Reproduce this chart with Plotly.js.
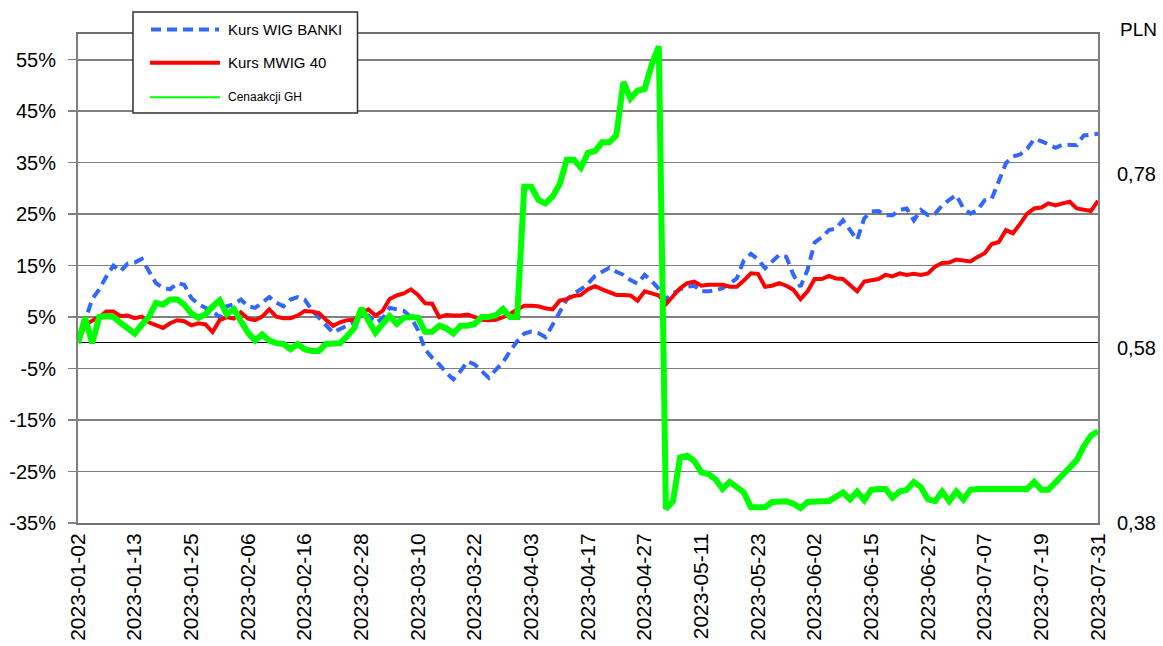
<!DOCTYPE html>
<html>
<head>
<meta charset="utf-8">
<script src="https://cdn.plot.ly/plotly-3.0.1.min.js"></script>
<style>html,body{margin:0;padding:0;background:#fff;}#chart{width:1163px;height:646px;}</style>
</head>
<body>
<div id="chart"></div>
<script>
// Trading days (GPW) 2023-01-02 .. 2023-07-31
const dates = [
'2023-01-02','2023-01-03','2023-01-04','2023-01-05','2023-01-09','2023-01-10','2023-01-11','2023-01-12','2023-01-13','2023-01-16',
'2023-01-17','2023-01-18','2023-01-19','2023-01-20','2023-01-23','2023-01-24','2023-01-25','2023-01-26','2023-01-27','2023-01-30',
'2023-01-31','2023-02-01','2023-02-02','2023-02-03','2023-02-06','2023-02-07','2023-02-08','2023-02-09','2023-02-10','2023-02-13',
'2023-02-14','2023-02-15','2023-02-16','2023-02-17','2023-02-20','2023-02-21','2023-02-22','2023-02-23','2023-02-24','2023-02-27',
'2023-02-28','2023-03-01','2023-03-02','2023-03-03','2023-03-06','2023-03-07','2023-03-08','2023-03-09','2023-03-10','2023-03-13',
'2023-03-14','2023-03-15','2023-03-16','2023-03-17','2023-03-20','2023-03-21','2023-03-22','2023-03-23','2023-03-24','2023-03-27',
'2023-03-28','2023-03-29','2023-03-30','2023-03-31','2023-04-03','2023-04-04','2023-04-05','2023-04-06','2023-04-11','2023-04-12',
'2023-04-13','2023-04-14','2023-04-17','2023-04-18','2023-04-19','2023-04-20','2023-04-21','2023-04-24','2023-04-25','2023-04-26',
'2023-04-27','2023-04-28','2023-05-02','2023-05-04','2023-05-05','2023-05-08','2023-05-09','2023-05-10','2023-05-11','2023-05-12',
'2023-05-15','2023-05-16','2023-05-17','2023-05-18','2023-05-19','2023-05-22','2023-05-23','2023-05-24','2023-05-25','2023-05-26',
'2023-05-29','2023-05-30','2023-05-31','2023-06-01','2023-06-02','2023-06-05','2023-06-06','2023-06-07','2023-06-09','2023-06-12',
'2023-06-13','2023-06-14','2023-06-15','2023-06-16','2023-06-19','2023-06-20','2023-06-21','2023-06-22','2023-06-23','2023-06-26',
'2023-06-27','2023-06-28','2023-06-29','2023-06-30','2023-07-03','2023-07-04','2023-07-05','2023-07-06','2023-07-07','2023-07-10',
'2023-07-11','2023-07-12','2023-07-13','2023-07-14','2023-07-17','2023-07-18','2023-07-19','2023-07-20','2023-07-21','2023-07-24',
'2023-07-25','2023-07-26','2023-07-27','2023-07-28','2023-07-31'
];

// Kurs WIG BANKI, change since 2023-01-02 (%)
const wigBanki = [
0, 4, 8.5, 10.4, 12.9, 15, 13.9, 15.4, 15.6, 16.3,
13.9, 11.6, 10.7, 10.4, 11.6, 11.3, 8.7, 7.5, 6.8, 6.2,
4.9, 7.1, 7.5, 8.4, 7.1, 6.8, 7.8, 8.9, 7.8, 7.1,
8.4, 8.9, 8.4, 6.4, 4.9, 3.4, 2, 2.7, 3.4, 4.2,
4.7, 5.3, 3.9, 4.7, 6.8, 6.5, 6.2, 5, 2.5, -1.3,
-2.9, -4.2, -5.8, -7.1, -5.5, -3.6, -4.2, -5.5, -6.8, -5.2,
-3.8, -1.6, 0.3, 1.8, 2.2, 1.9, 1.1, 3.5, 6.1, 8.4,
9.6, 10.4, 11.5, 13, 13.8, 14.6, 13.8, 13.2, 12.2, 11.5,
13.2, 12, 10.5, 8.5, 9.6, 10.4, 10.9, 11.1, 10, 10,
10.2, 10.6, 11.5, 12.5, 16, 17.3, 16.2, 14.5, 15.8, 17.1,
16.7, 13.2, 10.9, 14.2, 19.5, 20.5, 21.9, 22.2, 23.8, 21.9,
20, 24.2, 25.5, 25.6, 24.8, 24.8, 25.8, 26.1, 23.8, 25.8,
24.8, 25.1, 26.7, 27.8, 28.7, 26.1, 25.1, 25.8, 27.7, 28,
31.6, 34.9, 36.2, 36.6, 37.7, 39.6, 39.2, 38.5, 37.9, 38.5,
38.5, 38.4, 40.3, 40.5, 40.6
];

// Kurs MWIG 40, change since 2023-01-02 (%)
const mwig40 = [
0, 3.5, 4.3, 5, 6.1, 6.1, 5.2, 5.3, 4.8, 5.1,
4, 3.4, 2.9, 3.8, 4.4, 4.2, 3.4, 3.8, 3.6, 2.1,
4.4, 5, 4.7, 5.9, 4.7, 4.4, 5.1, 6.5, 5.1, 4.8,
4.8, 5.3, 6.2, 6.1, 5.8, 4.5, 3.3, 4, 4.4, 4.5,
5.8, 6.5, 5.3, 6.2, 8.5, 9.2, 9.6, 10.4, 9.3, 7.7,
7.6, 5, 5.4, 5.3, 5.3, 5.5, 5.1, 4.5, 4.4, 4.5,
5, 5.6, 6.5, 7.2, 7.2, 7.1, 6.7, 6.5, 8.2, 8.5,
9.1, 9.3, 10.4, 11, 10.4, 9.8, 9.3, 9.3, 9.2, 8.2,
10, 9.6, 9.2, 7.5, 9, 10.6, 11.6, 11.9, 11.1, 11.3,
11.3, 11.3, 10.9, 10.9, 12.1, 13.5, 13.4, 10.9, 11.1, 11.6,
11.1, 10.3, 8.5, 10, 12.4, 12.4, 13, 12.5, 12.4, 11.3,
10, 11.9, 12.2, 12.4, 13.2, 12.9, 13.5, 13.2, 13.4, 13.2,
13.5, 14.8, 15.5, 15.6, 16.2, 16, 15.8, 16.7, 17.4, 19.2,
19.6, 21.9, 21.3, 23.1, 25.1, 26.1, 26.3, 27.1, 26.7, 27.1,
27.4, 26.1, 25.9, 25.6, 27.6
];

// Cena akcji GH (PLN), right axis
const ghPrice = [
0.586, 0.615, 0.586, 0.616, 0.617, 0.616, 0.609, 0.602, 0.597, 0.607,
0.616, 0.632, 0.630, 0.636, 0.636, 0.630, 0.620, 0.615, 0.619, 0.628,
0.635, 0.619, 0.625, 0.611, 0.598, 0.589, 0.596, 0.589, 0.586, 0.585,
0.579, 0.585, 0.579, 0.577, 0.577, 0.585, 0.586, 0.586, 0.594, 0.603,
0.626, 0.613, 0.598, 0.608, 0.617, 0.608, 0.615, 0.616, 0.615, 0.599,
0.599, 0.606, 0.603, 0.597, 0.606, 0.606, 0.608, 0.616, 0.616, 0.618,
0.625, 0.616, 0.616, 0.765, 0.765, 0.750, 0.746, 0.754, 0.768, 0.796,
0.796, 0.787, 0.804, 0.806, 0.816, 0.816, 0.824, 0.885, 0.866, 0.875,
0.877, 0.905, 0.926, 0.396, 0.405, 0.455, 0.457, 0.451, 0.438, 0.436,
0.430, 0.419, 0.427, 0.421, 0.415, 0.398, 0.398, 0.398, 0.404, 0.405,
0.405, 0.402, 0.397, 0.404, 0.405, 0.405, 0.405, 0.411, 0.415, 0.407,
0.416, 0.406, 0.418, 0.419, 0.419, 0.409, 0.416, 0.418, 0.427, 0.421,
0.407, 0.405, 0.416, 0.405, 0.416, 0.407, 0.418, 0.419, 0.419, 0.419,
0.419, 0.419, 0.419, 0.419, 0.419, 0.427, 0.418, 0.418, 0.427, 0.436,
0.444, 0.452, 0.468, 0.480, 0.485
];

// Tick labels
const tickDates = ['2023-01-02','2023-01-13','2023-01-25','2023-02-06','2023-02-16','2023-02-28','2023-03-10','2023-03-22','2023-04-03','2023-04-17','2023-04-27','2023-05-11','2023-05-23','2023-06-02','2023-06-15','2023-06-27','2023-07-07','2023-07-19','2023-07-31'];
const pctTicks = [-35, -25, -15, -5, 5, 15, 25, 35, 45, 55];
const pctLabels = ['-35%', '-25%', '-15%', '-5%', '5%', '15%', '25%', '35%', '45%', '55%'];
const plnTicks = [0.38, 0.58, 0.78];
const plnLabels = ['0,38', '0,58', '0,78'];
const seriesNames = ['Kurs WIG BANKI', 'Kurs MWIG 40', 'Cenaakcji GH'];

const FONT = '"Liberation Sans", Arial, Helvetica, sans-serif';
const W = 1163, H = 646, M = {l: 78, r: 65, t: 34, b: 123};
const PW = W - M.l - M.r, PH = H - M.t - M.b;
const px = v => (v - M.l) / PW;          // pixel -> paper x
const py = v => (H - M.b - v) / PH;      // pixel -> paper y

const traces = [
  {x: dates, y: wigBanki, name: seriesNames[0], type: 'scatter', mode: 'lines',
   line: {color: '#3366FF', width: 4, dash: '10px,6px'}, yaxis: 'y'},
  {x: dates, y: mwig40, name: seriesNames[1], type: 'scatter', mode: 'lines',
   line: {color: '#FF0000', width: 4}, yaxis: 'y'},
  {x: dates, y: ghPrice, name: seriesNames[2], type: 'scatter', mode: 'lines',
   line: {color: '#00FF00', width: 6}, yaxis: 'y2'}
];

const legendRows = [29.5, 62.7, 97.3];
const shapes = [
  {type: 'line', xref: 'paper', yref: 'y', x0: 0, x1: 1, y0: 55, y1: 55, line: {color: '#000', width: 1.3}, layer: 'below'},
  {type: 'rect', xref: 'paper', yref: 'paper', x0: px(133), x1: px(357.5), y0: py(113), y1: py(12),
   fillcolor: '#fff', line: {color: '#303030', width: 1.5}},
  {type: 'line', xref: 'paper', yref: 'paper', x0: px(151), x1: px(219), y0: py(legendRows[0]), y1: py(legendRows[0]),
   line: {color: '#3366FF', width: 4, dash: '10px,6px'}},
  {type: 'line', xref: 'paper', yref: 'paper', x0: px(150), x1: px(220), y0: py(legendRows[1]), y1: py(legendRows[1]),
   line: {color: '#FF0000', width: 4}},
  {type: 'line', xref: 'paper', yref: 'paper', x0: px(150), x1: px(220), y0: py(legendRows[2]), y1: py(legendRows[2]),
   line: {color: '#00FF00', width: 2}}
];

const annotations = [
  {xref: 'paper', yref: 'paper', x: px(226), y: py(legendRows[0]), xanchor: 'left', yanchor: 'middle',
   text: seriesNames[0], showarrow: false, font: {family: FONT, size: 15, color: '#000'}},
  {xref: 'paper', yref: 'paper', x: px(226), y: py(legendRows[1]), xanchor: 'left', yanchor: 'middle',
   text: seriesNames[1], showarrow: false, font: {family: FONT, size: 15, color: '#000'}},
  {xref: 'paper', yref: 'paper', x: px(226), y: py(legendRows[2]), xanchor: 'left', yanchor: 'middle',
   text: seriesNames[2], showarrow: false, font: {family: FONT, size: 12, color: '#000'}},
  {xref: 'paper', yref: 'paper', x: px(1118), y: py(30), xanchor: 'left', yanchor: 'middle',
   text: 'PLN', showarrow: false, font: {family: FONT, size: 19, color: '#000'}}
];

const layout = {
  width: W, height: H,
  margin: M,
  paper_bgcolor: '#fff', plot_bgcolor: '#fff',
  font: {family: FONT, color: '#000'},
  showlegend: false,
  xaxis: {
    type: 'category', range: [0, 144],
    tickmode: 'array', tickvals: tickDates, ticktext: tickDates,
    tickangle: -90, tickfont: {size: 21, color: '#000'},
    showgrid: false, zeroline: false, ticks: '',
    showline: true, linecolor: '#707070', linewidth: 2, mirror: true
  },
  yaxis: {
    range: [-35, 60], tickmode: 'array', tickvals: pctTicks, ticktext: pctLabels,
    tickfont: {size: 20, color: '#000'},
    showgrid: true, gridcolor: '#808080', gridwidth: 1.5,
    zeroline: true, zerolinecolor: '#000', zerolinewidth: 1.3,
    showline: true, linecolor: '#808080', linewidth: 2, mirror: true,
    ticks: 'outside', ticklen: 8, tickcolor: '#808080', tickwidth: 1.5,
    ticklabelstandoff: 8
  },
  yaxis2: {
    overlaying: 'y', side: 'right', range: [0.38, 0.94],
    tickmode: 'array', tickvals: plnTicks, ticktext: plnLabels,
    tickfont: {size: 20, color: '#000'},
    showgrid: false, zeroline: false, showline: false, ticks: '',
    ticklabelstandoff: 18
  },
  shapes: shapes,
  annotations: annotations
};

Plotly.newPlot('chart', traces, layout, {staticPlot: true, displayModeBar: false});
</script>
</body>
</html>
